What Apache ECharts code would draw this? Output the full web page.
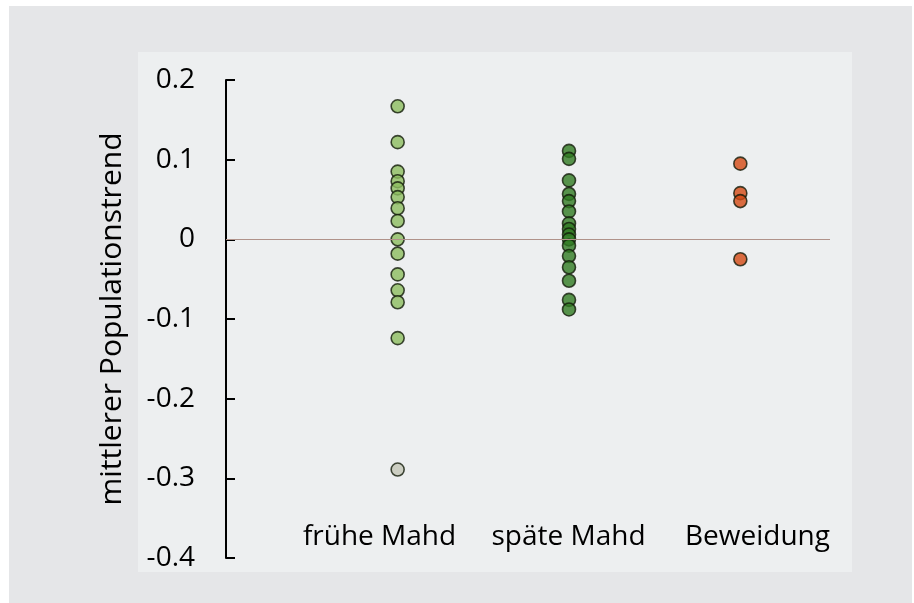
<!DOCTYPE html>
<html>
<head>
<meta charset="utf-8">
<script src="https://cdn.jsdelivr.net/npm/echarts@6/dist/echarts.min.js"></script>
<style>
html,body{margin:0;padding:0;background:#fff;}
#chart{width:914px;height:603px;}
</style>
</head>
<body>
<div id="chart"></div>
<script>
// ---- data ----
const categories = ['frühe Mahd', 'späte Mahd', 'Beweidung'];
const fruehMahd = [0.167, 0.122, 0.085, 0.073, 0.064, 0.053, 0.039, 0.023, 0.0, -0.018, -0.044, -0.064, -0.079, -0.124, -0.289];
const spaetMahd = [0.111, 0.101, 0.074, 0.057, 0.048, 0.035, 0.020, 0.013, 0.006, 0.0, -0.008, -0.021, -0.035, -0.052, -0.076, -0.088];
const beweidung = [0.095, 0.058, 0.048, -0.025];
const yMin = -0.4, yMax = 0.2, yStep = 0.1;
const yTitle = 'mittlerer Populationstrend';

const FONT = '"Open Sans", sans-serif';
const chart = echarts.init(document.getElementById('chart'), null, {renderer: 'canvas'});

function pairs(cat, arr) { return arr.map(v => [cat, v]); }
const dotBorder = {borderColor: '#131b0a', borderWidth: 1.6};

const option = {
  animation: false,
  backgroundColor: '#e5e6e8',
  graphic: [
    {type: 'rect', z: -10, silent: true, shape: {x: 0, y: 0, width: 9, height: 603}, style: {fill: '#ffffff'}},
    {type: 'rect', z: -10, silent: true, shape: {x: 0, y: 0, width: 914, height: 6}, style: {fill: '#ffffff'}},
    {type: 'rect', z: -10, silent: true, shape: {x: 912, y: 0, width: 2, height: 603}, style: {fill: '#ffffff'}},
    {type: 'rect', z: -10, silent: true, shape: {x: 138, y: 52, width: 714, height: 520}, style: {fill: '#edeff0'}}
  ],
  grid: [
    {left: 226, right: 84, top: 80, bottom: 45},   // y axis + zero line
    {left: 312, right: 88, top: 80, bottom: 45},   // points
    {left: 285, right: 62, top: 80, bottom: 45}    // category labels
  ],
  xAxis: [
    {gridIndex: 0, type: 'value', min: 0, max: 1, show: false},
    {gridIndex: 1, type: 'category', data: categories, show: false},
    {gridIndex: 2, type: 'category', data: categories, offset: -42,
     axisLine: {show: false}, axisTick: {show: false},
     axisLabel: {color: '#000', fontFamily: FONT, fontSize: 28, margin: 7, interval: 0, hideOverlap: false}}
  ],
  yAxis: [
    {gridIndex: 0, type: 'value', min: yMin, max: yMax, interval: yStep,
     name: yTitle, nameLocation: 'middle', nameGap: 99,
     nameTextStyle: {color: '#000', fontFamily: FONT, fontSize: 30},
     axisLine: {show: true, lineStyle: {color: '#000', width: 2}},
     axisTick: {show: true, inside: true, length: 9, lineStyle: {color: '#000', width: 2}},
     splitLine: {show: false},
     axisLabel: {color: '#000', fontFamily: FONT, fontSize: 28, margin: 31,
       formatter: v => (Math.abs(v) < 1e-9 ? '0' : String(Math.round(v * 10) / 10))}},
    {gridIndex: 1, type: 'value', min: yMin, max: yMax, show: false},
    {gridIndex: 2, type: 'value', min: yMin, max: yMax, show: false}
  ],
  series: [
    {type: 'scatter', xAxisIndex: 0, yAxisIndex: 0, data: [], silent: true,
     markLine: {silent: true, symbol: 'none', label: {show: false},
       lineStyle: {color: '#b0928a', width: 1, type: 'solid'},
       data: [{yAxis: 0}]}},
    {type: 'scatter', name: categories[0], xAxisIndex: 1, yAxisIndex: 1, symbolSize: 13,
     data: pairs(categories[0], fruehMahd),
     itemStyle: Object.assign({color: p => (p.value[1] < -0.2 ? '#c3c5b6' : '#8cbd5f')}, dotBorder)},
    {type: 'scatter', name: categories[1], xAxisIndex: 1, yAxisIndex: 1, symbolSize: 13,
     data: pairs(categories[1], spaetMahd),
     itemStyle: Object.assign({color: '#2f7a22'}, dotBorder)},
    {type: 'scatter', name: categories[2], xAxisIndex: 1, yAxisIndex: 1, symbolSize: 13,
     data: pairs(categories[2], beweidung),
     itemStyle: Object.assign({color: '#d34a14'}, dotBorder)}
  ]
};
chart.setOption(option);
</script>
</body>
</html>
